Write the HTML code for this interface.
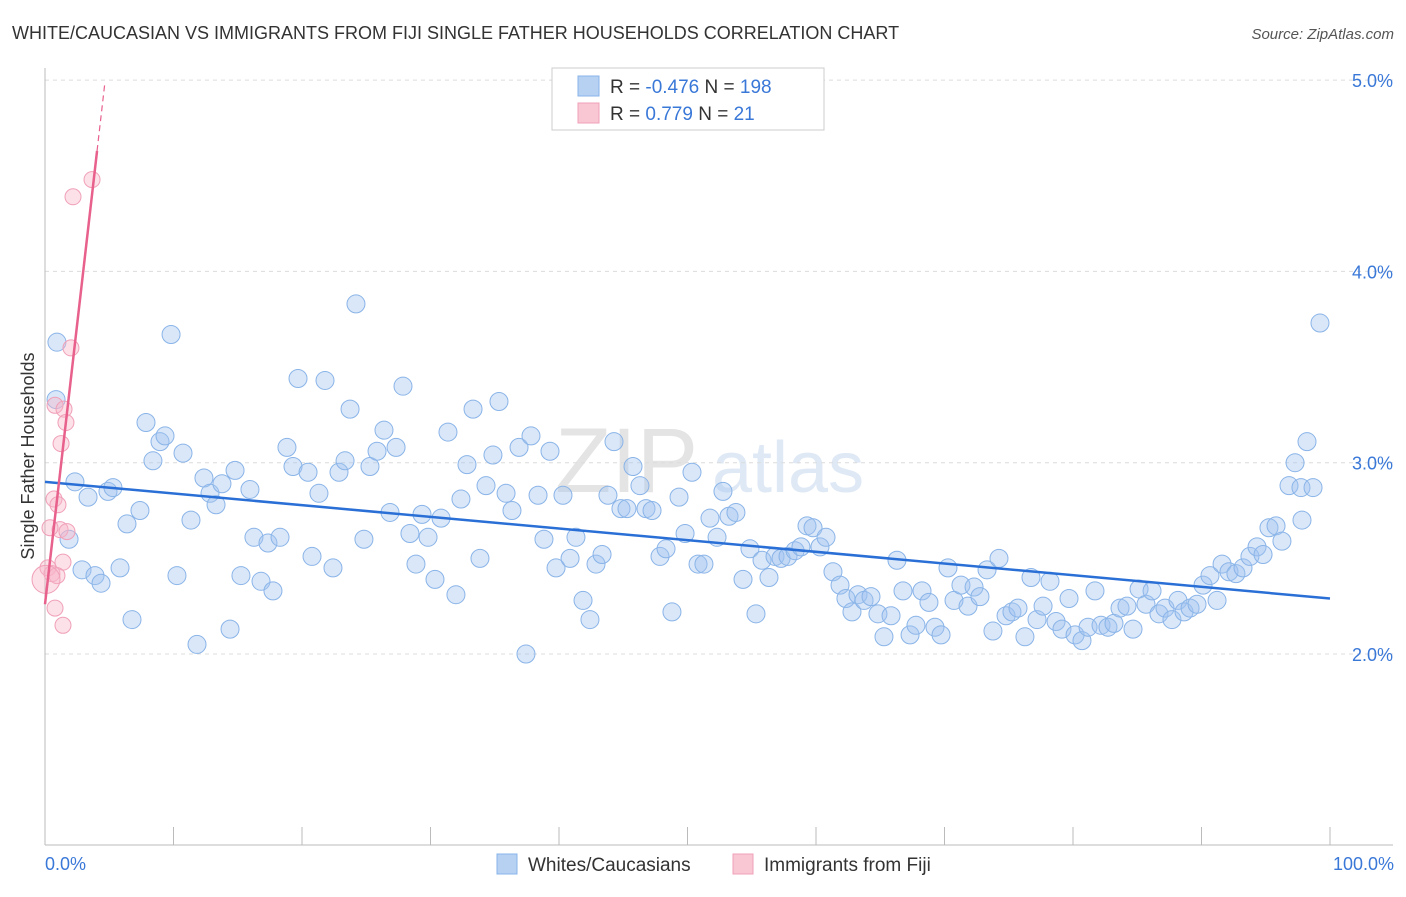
<!DOCTYPE html>
<html><head><meta charset="utf-8">
<style>
body{margin:0;background:#fff;font-family:"Liberation Sans",sans-serif;}
svg text{font-family:"Liberation Sans",sans-serif;}
</style></head>
<body>
<svg id="chart" width="1406" height="892" xmlns="http://www.w3.org/2000/svg">
<text x="12" y="39" font-size="18" fill="#333">WHITE/CAUCASIAN VS IMMIGRANTS FROM FIJI SINGLE FATHER HOUSEHOLDS CORRELATION CHART</text>
<text x="1394" y="39" font-size="15" fill="#555" text-anchor="end" font-style="italic">Source: ZipAtlas.com</text>
<text x="555" y="492" font-size="92" fill="#e4e4e4" font-family="Liberation Serif">ZIP</text>
<text x="712" y="492" font-size="72" fill="#dfe9f6">atlas</text>
<g id="grid"></g>
<g id="axes"></g>
<g id="pts"></g>
<g id="lines"></g>
<text transform="translate(34,456) rotate(-90)" font-size="18" fill="#333" text-anchor="middle">Single Father Households</text>
<text x="45" y="870" font-size="18" fill="#3a78d8">0.0%</text>
<text x="1394" y="870" font-size="18" fill="#3a78d8" text-anchor="end">100.0%</text>
<g>
<rect x="552" y="68" width="272" height="62" fill="#fff" stroke="#ccc"/>
<rect x="578" y="76" width="21" height="20" fill="#b7d1f3" stroke="#8ab4e8"/>
<rect x="578" y="103" width="21" height="20" fill="#f9c6d4" stroke="#f0a0b8"/>
<text x="610" y="93" font-size="19" fill="#333">R = <tspan fill="#3a78d8">-0.476</tspan>   N = <tspan fill="#3a78d8">198</tspan></text>
<text x="610" y="120" font-size="19" fill="#333">R = <tspan fill="#3a78d8">  0.779</tspan>    N = <tspan fill="#3a78d8">  21</tspan></text>
</g>
<g>
<rect x="497" y="854" width="20" height="20" fill="#b7d1f3" stroke="#8ab4e8"/>
<text x="528" y="871" font-size="19" fill="#333">Whites/Caucasians</text>
<rect x="733" y="854" width="20" height="20" fill="#f9c6d4" stroke="#f0a0b8"/>
<text x="764" y="871" font-size="19" fill="#333">Immigrants from Fiji</text>
</g>
</svg>
<script>
const blueX=[0.93,0.86,2.33,1.87,3.35,4.90,5.29,2.88,3.89,4.36,5.84,6.38,7.39,6.77,7.86,8.40,8.95,9.34,9.81,10.74,10.27,11.36,11.83,12.37,12.84,13.31,13.77,14.40,14.79,15.25,15.95,16.26,16.81,17.35,17.74,18.29,18.83,19.30,19.69,20.47,20.78,21.32,21.79,22.41,22.88,23.35,23.74,24.20,24.82,25.29,25.84,26.38,26.85,27.32,27.86,28.40,28.87,29.34,29.81,30.35,30.82,31.36,31.98,32.37,32.84,33.31,33.85,34.32,34.86,35.33,35.88,36.34,36.89,37.43,37.82,38.37,38.83,39.30,39.77,40.31,40.86,41.32,41.87,42.41,42.88,43.35,43.81,44.28,44.82,45.29,45.76,46.30,46.77,47.24,47.86,48.33,48.79,49.34,49.81,50.35,50.82,51.28,51.75,52.30,52.76,53.23,53.77,54.32,54.86,55.33,55.80,56.34,56.81,57.28,57.82,58.37,58.83,59.30,59.77,60.31,60.78,61.32,61.87,62.33,62.80,63.27,63.74,64.28,64.82,65.29,65.84,66.30,66.77,67.32,67.78,68.25,68.79,69.26,69.73,70.27,70.74,71.28,71.83,72.30,72.76,73.31,73.77,74.24,74.79,75.25,75.72,76.26,76.73,77.20,77.67,78.21,78.68,79.14,79.69,80.16,80.70,81.17,81.71,82.18,82.72,83.19,83.66,84.20,84.67,85.14,85.68,86.15,86.69,87.16,87.70,88.17,88.64,89.11,89.65,90.12,90.66,91.21,91.60,92.14,92.68,93.23,93.77,94.32,94.79,95.25,95.80,96.26,96.81,97.28,97.74,98.21,98.68,99.22,97.82];
const blueY=[3.63,3.33,2.90,2.60,2.82,2.85,2.87,2.44,2.41,2.37,2.45,2.68,2.75,2.18,3.21,3.01,3.11,3.14,3.67,3.05,2.41,2.70,2.05,2.92,2.84,2.78,2.89,2.13,2.96,2.41,2.86,2.61,2.38,2.58,2.33,2.61,3.08,2.98,3.44,2.95,2.51,2.84,3.43,2.45,2.95,3.01,3.28,3.83,2.60,2.98,3.06,3.17,2.74,3.08,3.40,2.63,2.47,2.73,2.61,2.39,2.71,3.16,2.31,2.81,2.99,3.28,2.50,2.88,3.04,3.32,2.84,2.75,3.08,2.00,3.14,2.83,2.60,3.06,2.45,2.83,2.50,2.61,2.28,2.18,2.47,2.52,2.83,3.11,2.76,2.76,2.98,2.88,2.76,2.75,2.51,2.55,2.22,2.82,2.63,2.95,2.47,2.47,2.71,2.61,2.85,2.72,2.74,2.39,2.55,2.21,2.49,2.40,2.51,2.50,2.51,2.54,2.56,2.67,2.66,2.56,2.61,2.43,2.36,2.29,2.22,2.31,2.28,2.30,2.21,2.09,2.20,2.49,2.33,2.10,2.15,2.33,2.27,2.14,2.10,2.45,2.28,2.36,2.25,2.35,2.30,2.44,2.12,2.50,2.20,2.22,2.24,2.09,2.40,2.18,2.25,2.38,2.17,2.13,2.29,2.10,2.07,2.14,2.33,2.15,2.14,2.16,2.24,2.25,2.13,2.34,2.26,2.33,2.21,2.24,2.18,2.28,2.22,2.24,2.26,2.36,2.41,2.28,2.47,2.43,2.42,2.45,2.51,2.56,2.52,2.66,2.67,2.59,2.88,3.00,2.87,3.11,2.87,3.73,2.70];
const pinkX=[2.18,3.66,2.02,0.78,1.48,1.63,1.25,0.70,1.01,1.17,1.71,0.39,1.40,0.23,0.54,0.93,0.08,0.78,1.40];
const pinkY=[4.39,4.48,3.60,3.30,3.28,3.21,3.10,2.81,2.78,2.65,2.64,2.66,2.48,2.45,2.42,2.41,2.39,2.24,2.15];
const blueTrend=[2.90,2.29];   // y at x=0 and x=100
const pinkTrend=[2.26,0.585];  // intercept, slope per %
const yTicks=[2,3,4,5];
const yTickLabels=["2.0%","3.0%","4.0%","5.0%"];
const xTicks=[10,20,30,40,50,60,70,80,90,100];

const NS="http://www.w3.org/2000/svg";
const X=v=>45+v*12.85;
const Y=v=>654-(v-2)*191.3;
function mk(tag,attrs,parent){const e=document.createElementNS(NS,tag);for(const k in attrs)e.setAttribute(k,attrs[k]);document.getElementById(parent).appendChild(e);return e;}

yTicks.forEach((t,i)=>{
  const l=mk('line',{x1:45,x2:1393,y1:Y(t),y2:Y(t),stroke:'#dcdcdc','stroke-dasharray':'4,4'},'grid');
  
  
  const tx=mk('text',{x:1393,y:Y(t)+7,'font-size':18,fill:'#3a78d8','text-anchor':'end'},'grid');
  tx.textContent=yTickLabels[i];
  
  
});
const xa=mk('line',{x1:45,x2:1393,y1:845,y2:845,stroke:'#bbb'},'axes');


const ya=mk('line',{x1:45,x2:45,y1:68,y2:845,stroke:'#bbb'},'axes');


xTicks.forEach(t=>{
  const l=mk('line',{x1:X(t),x2:X(t),y1:827,y2:845,stroke:'#bbb'},'axes');
  
  
});
blueX.forEach((x,i)=>{
  const c=mk('circle',{cx:X(x),cy:Y(blueY[i]),r:9,fill:'rgba(160,196,240,0.4)',stroke:'#8ab4e8','stroke-width':1},'pts');
  
  
});
pinkX.forEach((x,i)=>{
  const c=mk('circle',{cx:X(x),cy:Y(pinkY[i]),r:(i===16?14:8),fill:'rgba(248,180,200,0.4)',stroke:'#f0a0b8','stroke-width':1},'pts');
  
  
});
const bl=mk('line',{x1:X(0),y1:Y(blueTrend[0]),x2:X(100),y2:Y(blueTrend[1]),stroke:'#2a6fd6','stroke-width':2.5},'lines');


const pY=x=>pinkTrend[0]+pinkTrend[1]*x;
const pl=mk('line',{x1:X(0),y1:Y(pY(0)),x2:X(4.05),y2:Y(pY(4.05)),stroke:'#e8608c','stroke-width':2.5},'lines');


const pd=mk('line',{x1:X(4.05),y1:Y(pY(4.05)),x2:X(4.67),y2:Y(pY(4.67)),stroke:'#e8608c','stroke-width':1.2,'stroke-dasharray':'6,4'},'lines');


</script>
</body></html>
